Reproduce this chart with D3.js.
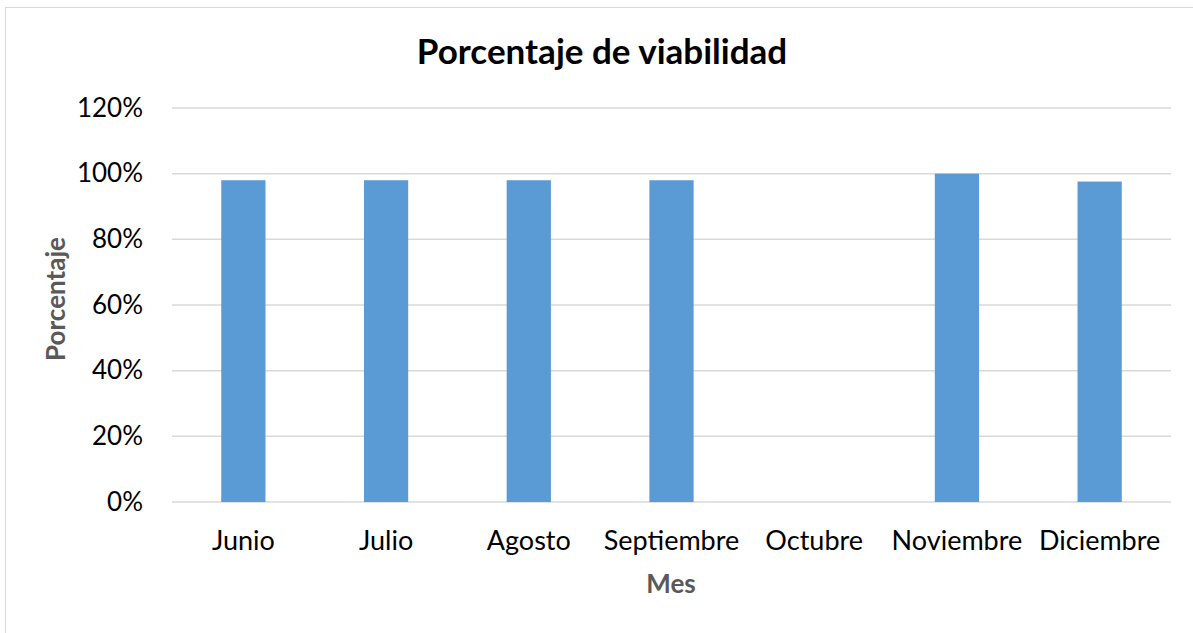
<!DOCTYPE html>
<html><head><meta charset="utf-8">
<script src="https://cdn.jsdelivr.net/npm/d3@7"></script>
<style>body{margin:0;background:#fff}svg{display:block}</style>
</head><body>
<svg id="c" width="1193" height="633"></svg>
<script>
const categories = ["Junio","Julio","Agosto","Septiembre","Octubre","Noviembre","Diciembre"];
const values = [0.98, 0.98, 0.98, 0.98, 0, 1.00, 0.976];
const yTicks = [0, 0.2, 0.4, 0.6, 0.8, 1.0, 1.2];
const title = "Porcentaje de viabilidad";
const xTitle = "Mes";
const yTitle = "Porcentaje";

const svg = d3.select("#c");
const font = "Lato, 'Open Sans', sans-serif";
svg.append("rect").attr("x",5.5).attr("y",7.5).attr("width",1200).attr("height",640)
  .attr("fill","#fff").attr("stroke","#d9d9d9").attr("stroke-width",1);

const m = {left:172, right:1171, top:108, bottom:502};
const x = d3.scaleBand().domain(categories).range([m.left,m.right]).paddingInner(0.69).paddingOuter(0.345);
const y = d3.scaleLinear().domain([0,1.2]).range([m.bottom,m.top]);

svg.append("g").selectAll("line").data(yTicks).join("line")
  .attr("x1",m.left).attr("x2",m.right)
  .attr("y1",d=>y(d)).attr("y2",d=>y(d))
  .attr("stroke","#d9d9d9").attr("stroke-width",1.5);

svg.append("g").selectAll("rect").data(values).join("rect")
  .attr("x",(d,i)=>x(categories[i])).attr("width",x.bandwidth())
  .attr("y",d=>y(d)).attr("height",d=>y(0)-y(d))
  .attr("fill","#5b9bd5");

const yAxis = d3.axisLeft(y).tickValues(yTicks).tickFormat(d3.format(".0%")).tickSize(0).tickPadding(29);
const ga = svg.append("g").attr("transform",`translate(${m.left},0)`).call(yAxis);
ga.select(".domain").remove();
ga.selectAll("text").attr("font-family",font).attr("font-size",26).attr("fill","#000");

const xAxis = d3.axisBottom(x).tickSize(0).tickPadding(0);
const gx = svg.append("g").attr("transform",`translate(0,${m.bottom})`).call(xAxis);
gx.select(".domain").remove();
gx.selectAll("text").attr("font-family",font).attr("font-size",27).attr("fill","#000").attr("dy",null).attr("y",48);

svg.append("text").attr("x",602).attr("y",64).attr("text-anchor","middle")
  .attr("font-family",font).attr("font-weight","bold").attr("font-size",35).attr("fill","#000").text(title);
svg.append("text").attr("x",671).attr("y",593).attr("text-anchor","middle")
  .attr("font-family",font).attr("font-weight","bold").attr("font-size",26).attr("fill","#595959").text(xTitle);
svg.append("text").attr("transform","translate(65,299) rotate(-90)").attr("text-anchor","middle")
  .attr("font-family",font).attr("font-weight","bold").attr("font-size",26).attr("fill","#595959").text(yTitle);
</script>
</body></html>
